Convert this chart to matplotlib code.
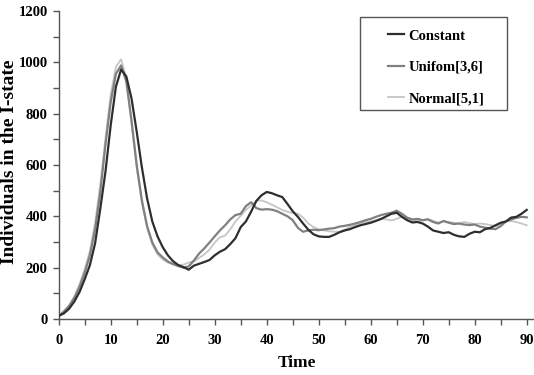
"""Individuals in the I-state over time for three delay distributions."""

import matplotlib

matplotlib.use("Agg")
import matplotlib.pyplot as plt
from matplotlib.patches import Rectangle
from matplotlib.ticker import MultipleLocator

time = list(range(0, 91))

constant = [
    12, 22, 40, 68, 105, 155, 210, 295, 430, 575,
    755, 905, 972, 945, 860, 730, 590, 470, 380, 322,
    280, 248, 225, 210, 202, 192, 208, 215, 222, 230,
    248, 262, 272, 292, 315, 358, 380, 418, 460, 482,
    495, 490, 482, 475, 448, 420, 398, 372, 348, 330,
    322, 320, 320, 328, 338, 345, 350, 358, 365, 370,
    375, 382, 390, 400, 410, 414, 398, 385, 376, 378,
    372, 360, 345, 340, 335, 338, 328, 322, 320, 332,
    340, 338, 350, 355, 365, 375, 380, 395, 398, 410,
    425,
]
uniform = [
    12, 28, 50, 82, 125, 180, 248, 350, 495, 680,
    845, 955, 988, 925, 775, 600, 462, 362, 298, 260,
    240, 224, 214, 206, 200, 205, 228, 255, 275, 298,
    322, 345, 365, 388, 405, 410, 440, 455, 432, 426,
    428, 426, 420, 410, 400, 385, 355, 340, 345, 348,
    346, 349, 352, 354, 360, 363, 367, 372, 378, 385,
    390, 398, 405, 410, 414, 422, 410, 395, 388, 390,
    385, 388, 378, 372, 382, 375, 370, 372, 368, 366,
    368, 360, 356, 352, 350, 362, 380, 388, 394, 398,
    396,
]
normal = [
    14, 32, 54, 88, 135, 195, 265, 375, 525, 705,
    875, 982, 1012, 940, 760, 590, 452, 355, 290, 252,
    232, 220, 213, 210, 212, 220, 224, 238, 252, 270,
    298, 318, 325, 350, 380, 402, 425, 442, 460, 462,
    455, 445, 435, 425, 418, 413, 410, 395, 372, 358,
    350, 345, 342, 340, 340, 348, 358, 365, 372, 378,
    380, 385, 390, 388, 384, 390, 400, 394, 385, 380,
    385, 390, 382, 376, 380, 378, 375, 372, 378, 374,
    370, 372, 370, 366, 362, 370, 380, 382, 378, 372,
    365,
]

series_labels = ["Constant", "Unifom[3,6]", "Normal[5,1]"]
x_ticks = [0, 10, 20, 30, 40, 50, 60, 70, 80, 90]
y_ticks = [0, 200, 400, 600, 800, 1000, 1200]

plt.rcParams["font.family"] = ["Liberation Serif", "DejaVu Serif"]
plt.rcParams["font.weight"] = "bold"

W, H = 534, 375
AX_LEFT, AX_BOTTOM, AX_H = 58.7, 319, 308
fig = plt.figure(figsize=(W / 100, H / 100), dpi=100)
ax = fig.add_axes([AX_LEFT / W, (H - AX_BOTTOM) / H, (W - AX_LEFT) / W, AX_H / H])

colors = ["#2e2e2e", "#808080", "#c6c6c6"]
widths = [1.6, 1.6, 1.3]
data = [constant, uniform, normal]

lines = []
for vals, c, lw in zip(data, colors, widths):
    (ln,) = ax.plot(time, vals, color=c, lw=lw, solid_joinstyle="round")
    lines.append(ln)
# dark series on top, as in the original
lines[0].set_zorder(4)
lines[1].set_zorder(3)
lines[2].set_zorder(2)

ax.set_xlim(0, (W - AX_LEFT) / 5.2)
ax.set_ylim(0, 1200)
ax.set_xticks(x_ticks)
ax.set_yticks(y_ticks)
ax.xaxis.set_minor_locator(MultipleLocator(5))
ax.yaxis.set_minor_locator(MultipleLocator(100))

for side in ["top", "right"]:
    ax.spines[side].set_visible(False)
for side in ["left", "bottom"]:
    ax.spines[side].set_color("#555555")
    ax.spines[side].set_linewidth(1.0)

ax.tick_params(axis="both", which="both", direction="out", color="#555555",
               width=1.0, length=4, labelsize=10.5)
ax.tick_params(axis="x", which="major", pad=7)
ax.tick_params(axis="y", which="major", pad=4)

ax.set_xlabel("Time", fontsize=12.5, fontweight="bold")
ax.set_ylabel("Individuals in the I-state", fontsize=14, fontweight="bold")


def to_ax(px, py):
    return (px - AX_LEFT) / (W - AX_LEFT), (AX_BOTTOM - py) / AX_H


ax.xaxis.set_label_coords(*to_ax(297, 355))
# the rotated label is anchored on its right-hand side
ax.yaxis.set_label_coords(*to_ax(18, 162))

# legend frame drawn by hand so the wide Excel-style padding is kept
x0, y0 = to_ax(360, 110)
x1, y1 = to_ax(507, 17)
ax.add_patch(Rectangle((x0, y0), x1 - x0, y1 - y0, transform=ax.transAxes,
                       facecolor="white", edgecolor="#555555", lw=1.0,
                       zorder=5, clip_on=False))
leg = ax.legend(lines, series_labels, loc="upper left",
                bbox_to_anchor=to_ax(381, 22), frameon=False, borderpad=0,
                handlelength=1.1, handletextpad=0.3, labelspacing=1.25,
                prop={"weight": "bold", "size": 10.5})
leg.set_zorder(6)

fig.savefig("out.png", dpi=100)
